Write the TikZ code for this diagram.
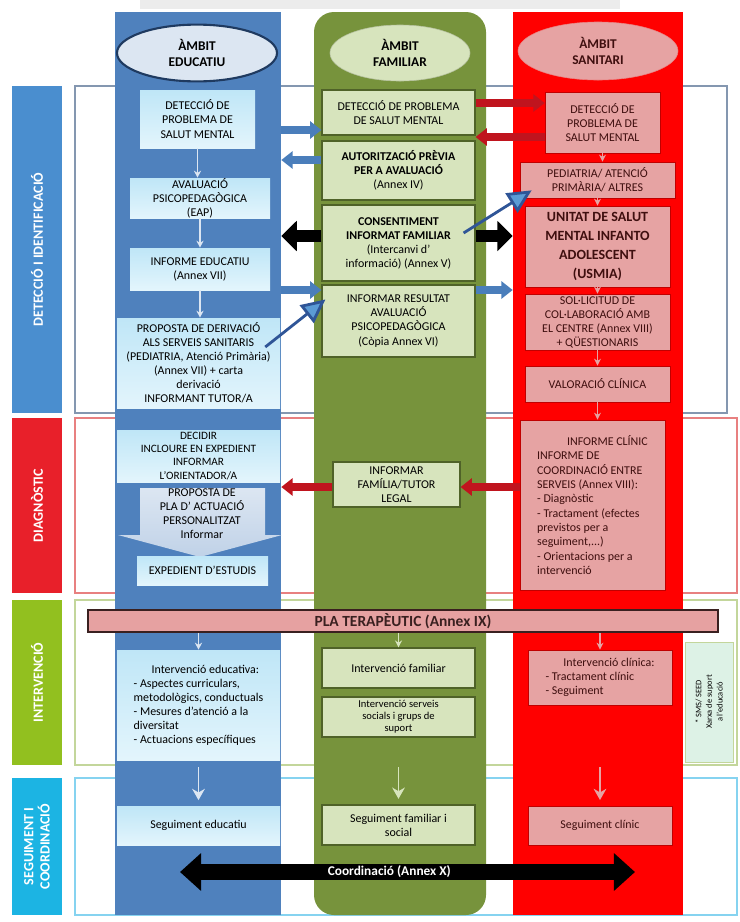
\documentclass[tikz,border=0pt]{standalone}
\usepackage{fontspec}
\setmainfont{Carlito}
\usetikzlibrary{arrows.meta}
\usetikzlibrary{fit}
\usetikzlibrary{shapes.geometric}

\definecolor{eduBlue}{HTML}{4F81BD}
\definecolor{eduLight}{HTML}{DCE6F2}
\definecolor{eduDark}{HTML}{1F3A60}
\definecolor{eduTop}{HTML}{BFE6F7}
\definecolor{eduBot}{HTML}{E3F5FC}
\definecolor{famGreen}{HTML}{77933C}
\definecolor{famLight}{HTML}{D7E4BD}
\definecolor{famDark}{HTML}{4F6228}
\definecolor{sanRed}{HTML}{FF0000}
\definecolor{sanLight}{HTML}{E6A3A3}
\definecolor{sanDark}{HTML}{C00000}
\definecolor{sanText}{HTML}{3F0F0F}
\definecolor{tabDet}{HTML}{4A8ECF}
\definecolor{tabDiag}{HTML}{E8202A}
\definecolor{tabInt}{HTML}{92C01F}
\definecolor{tabSeg}{HTML}{1CB4E3}
\definecolor{bandDet}{HTML}{8497B0}
\definecolor{bandDiag}{HTML}{E88080}
\definecolor{bandInt}{HTML}{C3D69B}
\definecolor{bandSeg}{HTML}{86D3F0}
\definecolor{arrBlue}{HTML}{4A7EBB}
\definecolor{arrRed}{HTML}{C0141E}
\definecolor{diagFill}{HTML}{5B9BD5}
\definecolor{diagLine}{HTML}{2F5597}
\definecolor{plaFill}{HTML}{E6A1A1}
\definecolor{plaDraw}{HTML}{3A2020}
\definecolor{xarxaFill}{HTML}{DDF2E6}

\begin{document}
\begin{tikzpicture}[x=0.025cm, y=-0.025cm,
    sz/.style 2 args={minimum width=#1*0.025cm, minimum height=#2*0.025cm},
    txt/.style={font=\fontsize{8.5}{10}\selectfont, align=center, inner sep=0pt},
    edubox/.style={txt, top color=eduTop, bottom color=eduBot, draw=none},
    fambox/.style={txt, fill=famLight, draw=famDark, line width=0.8pt},
    sanbox/.style={txt, fill=sanLight, draw=sanDark, line width=0.5pt, text=sanText},
    hdr/.style={ellipse, align=center, font=\fontsize{9.5}{11.5}\selectfont\bfseries},
    tab/.style={rotate=90, align=center, text=white, font=\fontsize{10}{11.5}\selectfont\bfseries},
    bluearr/.style={draw=arrBlue, line width=5.7pt, -{Triangle[length=8pt,width=12pt]}},
    redarr/.style={draw=arrRed, line width=5.7pt, -{Triangle[length=8pt,width=12pt]}},
    blackarr/.style={draw=black, line width=8.5pt, -{Triangle[length=11pt,width=21pt]}},
    diagarr/.style={draw=diagLine, line width=2pt, -{Triangle[length=17pt,width=16pt,fill=diagFill]}},
    colarr/.style={line width=0.9pt, -{Stealth[length=5pt,width=5pt]}},
    segarr/.style={line width=1.4pt, -{Stealth[length=8pt,width=9pt]}}]
\useasboundingbox (0,0) rectangle (739,922);

\fill[gray!15] (140,0) rectangle (620,9);

\draw[bandDet, line width=1.5pt] (75,86) rectangle (727,413);
\draw[bandDiag, line width=2pt] (75,418) rectangle (737,593);
\draw[bandInt, line width=2pt] (75,600) rectangle (737,765);
\draw[bandSeg, line width=2pt] (75,778) rectangle (737,915);

\node[tab, fill=tabDet, minimum width=8.175cm, minimum height=1.25cm] (tdet) at (37,249.5) {DETECCIÓ I IDENTIFICACIÓ};
\node[tab, fill=tabDiag, minimum width=4.375cm, minimum height=1.25cm] (tdiag) at (37,505.5) {DIAGNÒSTIC};
\node[tab, fill=tabInt, minimum width=4.125cm, minimum height=1.25cm] (tint) at (37,682.5) {INTERVENCIÓ};
\node[tab, fill=tabSeg, minimum width=3.425cm, minimum height=1.25cm] (tseg) at (37,846.5) {SEGUIMENT I\\COORDINACIÓ};

\node[fit={(115,12) (281,915)}, inner sep=0pt, fill=eduBlue] (edu) {};
\node[fit={(314,12) (486,915)}, inner sep=0pt, fill=famGreen, rounded corners=0.5cm] (fam) {};
\node[fit={(513,12) (683,915)}, inner sep=0pt, fill=sanRed] (san) {};

\node[hdr, fill=eduLight, draw=eduDark, line width=1.5pt, minimum width=4cm, minimum height=1.42cm] (hedu) at (197,53) {ÀMBIT\\EDUCATIU};
\node[hdr, fill=famLight, draw=famLight!85!black, minimum width=3.5cm, minimum height=1.4cm] (hfam) at (400,53) {ÀMBIT\\FAMILIAR};
\node[hdr, fill=sanLight, draw=sanLight!80!red, minimum width=4cm, minimum height=1.45cm, text=sanText] (hsan) at (598,51) {ÀMBIT\\SANITARI};

\node[edubox, sz={115}{58}] (b1) at (197.5,119) {DETECCIÓ DE\\PROBLEMA DE\\SALUT MENTAL};
\node[edubox, sz={140}{40}] (b2) at (200,198) {AVALUACIÓ\\PSICOPEDAGÒGICA\\(EAP)};
\node[edubox, sz={140}{42}] (b3) at (200,269) {INFORME EDUCATIU\\(Annex VII)};
\node[edubox, sz={163}{90}] (b4) at (198.5,363) {PROPOSTA DE DERIVACIÓ\\ALS SERVEIS SANITARIS\\(PEDIATRIA, Atenció Primària)\\(Annex VII) + carta\\derivació\\INFORMANT TUTOR/A};
\node[edubox, sz={163}{52}, font=\fontsize{8}{9.3}\selectfont] (b5) at (198.5,456) {DECIDIR\\INCLOURE EN EXPEDIENT\\INFORMAR\\L'ORIENTADOR/A};
\shade[top color=eduLight, bottom color=eduLight!80!eduBlue] (140,488) -- (265,488) -- (265,535) -- (282,535) -- (200,557) -- (118,535) -- (140,535) -- cycle;
\node[txt] (b6) at (202,514) {PROPOSTA DE\\PLA D' ACTUACIÓ\\PERSONALITZAT\\Informar};
\node[edubox, sz={131}{29}] (b7) at (202.5,570.5) {EXPEDIENT D'ESTUDIS};
\node[edubox, sz={163}{110}, align=left] (b8) at (198.5,705) {\hspace*{1.5em}Intervenció educativa:\\- Aspectes curriculars,\\metodològics, conductuals\\- Mesures d'atenció a la\\diversitat\\- Actuacions específiques};
\node[edubox, sz={163}{39}] (b9) at (198.5,825.5) {Seguiment educatiu};

\node[fambox, sz={153}{45}] (g1) at (398.5,112.5) {DETECCIÓ DE PROBLEMA\\DE SALUT MENTAL};
\node[fambox, sz={153}{59}] (g2) at (398.5,170.5) {\textbf{AUTORITZACIÓ PRÈVIA}\\\textbf{PER A AVALUACIÓ}\\(Annex IV)};
\node[fambox, sz={153}{76}] (g3) at (398.5,243) {\textbf{CONSENTIMENT}\\\textbf{INFORMAT FAMILIAR}\\(Intercanvi d'\\informació) (Annex V)};
\node[fambox, sz={153}{72}] (g4) at (398.5,321) {INFORMAR RESULTAT\\AVALUACIÓ\\PSICOPEDAGÒGICA\\(Còpia Annex VI)};
\node[fambox, sz={127}{45}] (g5) at (396.5,484.5) {INFORMAR\\FAMÍLIA/TUTOR\\LEGAL};
\node[fambox, sz={153}{40}] (g6) at (398.5,668) {Intervenció familiar};
\node[fambox, sz={153}{40}, font=\fontsize{7.5}{8.6}\selectfont] (g7) at (398.5,717) {Intervenció serveis\\socials i grups de\\suport};
\node[fambox, sz={153}{40}] (g8) at (398.5,825) {Seguiment familiar i\\social};

\node[sanbox, sz={115}{61}] (r1) at (602.5,122.5) {DETECCIÓ DE\\PROBLEMA DE\\SALUT MENTAL};
\node[sanbox, sz={155}{36}] (r2) at (597.5,180) {PEDIATRIA/ ATENCIÓ\\PRIMÀRIA/ ALTRES};
\node[sanbox, sz={145}{81}, font=\fontsize{10}{13.5}\selectfont\bfseries] (r3) at (597.5,246.5) {UNITAT DE SALUT\\MENTAL INFANTO\\ADOLESCENT\\(USMIA)};
\node[sanbox, sz={145}{56}] (r4) at (597.5,322) {SOL·LICITUD DE\\COL·LABORACIÓ AMB\\EL CENTRE (Annex VIII)\\+ QÜESTIONARIS};
\node[sanbox, sz={145}{36}] (r5) at (597.5,384) {VALORACIÓ CLÍNICA};
\node[sanbox, sz={145}{170}, align=left, font=\fontsize{8.5}{10.2}\selectfont] (r6) at (592.5,505) {\hspace*{2.5em}INFORME CLÍNIC\\INFORME DE\\COORDINACIÓ ENTRE\\SERVEIS (Annex VIII):\\- Diagnòstic\\- Tractament (efectes\\previstos per a\\seguiment,...)\\- Orientacions per a\\intervenció};
\node[sanbox, sz={144}{55}, align=left] (r7) at (600,677.5) {\hspace*{1.5em}Intervenció clínica:\\- Tractament clínic\\- Seguiment};
\node[sanbox, sz={144}{39}] (r8) at (600,825.5) {Seguiment clínic};

\node[sz={48}{120}, inner sep=0pt, fill=xarxaFill, draw=bandInt] (xarxa) at (709,702) {};
\node[rotate=90, align=center, font=\fontsize{6}{7.5}\selectfont] (xtxt) at (xarxa.center) {* SMS/ SEED\\Xarxa de suport\\a l'educació};

\node[sz={630}{22}, inner sep=0pt, fill=plaFill, draw=plaDraw, line width=1.5pt, text=plaDraw, font=\fontsize{11}{12}\selectfont\bfseries] (pla) at (403,621) {PLA TERAPÈUTIC (Annex IX)};

\draw[colarr, draw=eduLight] (b1.south) -- (b1.south |- b2.north);
\draw[colarr, draw=eduLight] (b2.south) -- (b2.south |- b3.north);
\draw[colarr, draw=eduLight] (b3.south) -- (b3.south |- b4.north);
\draw[colarr, draw=eduLight] (b8.north |- pla.south) -- (b8.north);
\draw[colarr, draw=famLight] (g6.north |- pla.south) -- (g6.north);
\draw[colarr, draw=sanLight] (r1.south) -- (r1.south |- r2.north);
\draw[colarr, draw=sanLight] (r2.south) -- (r2.south |- r3.north);
\draw[colarr, draw=sanLight] (r3.south) -- (r3.south |- r4.north);
\draw[colarr, draw=sanLight] (r4.south) -- (r4.south |- r5.north);
\draw[colarr, draw=sanLight] (r5.south) -- (r5.south |- r6.north);
\draw[colarr, draw=sanLight] (r7.north |- pla.south) -- (r7.north);

\draw[segarr, draw=eduLight, shorten <=5pt, shorten >=4pt] (b8.south) -- (b9.north);
\draw[segarr, draw=famLight, shorten <=5pt, shorten >=4pt] (g7.south |- b8.south) -- (g8.north);
\draw[segarr, draw=sanLight, shorten <=5pt, shorten >=4pt] (r7.south |- b8.south) -- (r8.north);

\draw[bluearr] (edu.east |- 0,130) -- (g1.west |- 0,130);
\draw[bluearr] (g2.west |- 0,160) -- (edu.east |- 0,160);
\draw[redarr] (g1.east |- 0,103) -- (r1.west |- 0,103);
\draw[redarr] (r1.west |- 0,137) -- (g2.east |- 0,137);
\draw[blackarr] (g3.west |- 0,236) -- (edu.east |- 0,236);
\draw[blackarr] (g3.east |- 0,236) -- (san.west |- 0,236);
\draw[bluearr] (edu.east |- 0,290) -- (g4.west |- 0,290);
\draw[bluearr] (g4.east |- 0,290) -- (san.west |- 0,290);
\draw[diagarr] ([shift={(-15,-16)}]b4.east) -- ([shift={(4,15)}]g4.north west);
\draw[diagarr] ([shift={(-12,-10)}]g3.east) -- ([shift={(12,-8)}]r2.south west);
\draw[redarr] (r6.west |- 0,487) -- (g5.east |- 0,487);
\draw[redarr] (g5.west |- 0,487) -- (edu.east |- 0,487);

\coordinate (cl) at (180,872);
\coordinate (cr) at (635,872);
\draw[draw=black, line width=11pt, {Triangle[length=15pt,width=26pt]}-{Triangle[length=15pt,width=26pt]}] (cl) -- (cr) node[pos=0.46, text=white, font=\fontsize{9.5}{11}\selectfont\bfseries] (coord) {Coordinació (Annex X)};
\end{tikzpicture}
\end{document}
